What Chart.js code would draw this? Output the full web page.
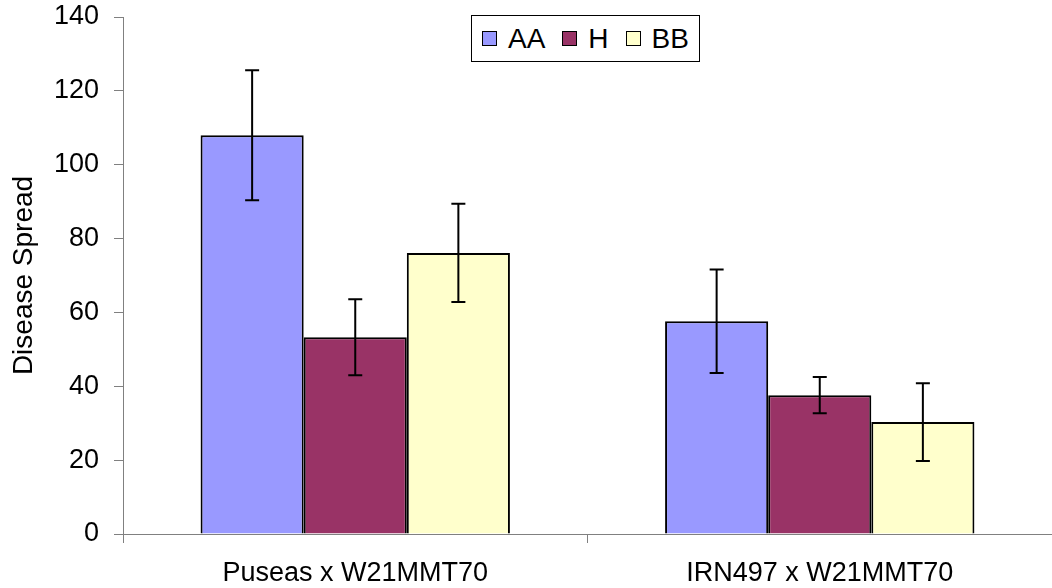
<!DOCTYPE html>
<html>
<head>
<meta charset="utf-8">
<script src="https://cdn.jsdelivr.net/npm/chart.js@4.4.1/dist/chart.umd.min.js"></script>
<style>
  body { margin: 0; background: #fff; }
  #wrap { position: relative; width: 1052px; height: 588px; }
  #legend {
    position: absolute; left: 471px; top: 15px; width: 217px; height: 45px;
    padding-left: 10px; border: 1px solid #000; background: #fff;
    display: flex; align-items: center;
    font-family: 'Liberation Sans', Arial, sans-serif; font-size: 28px; color: #000;
  }
  #legend .item { display: flex; align-items: center; margin-right: 17px; }
  #legend .box { width: 13px; height: 13px; border: 1px solid #000; margin-right: 11px; }
</style>
</head>
<body>
<div id="wrap">
  <canvas id="spread" width="1052" height="588"></canvas>
  <div id="legend"></div>
</div>
<script>
const categories = ['Puseas x W21MMT70', 'IRN497 x W21MMT70'];
const seriesNames = ['AA', 'H', 'BB'];
const aaValues = [108, 57.6];
const aaErrors = [17.6, 14];
const hValues = [53.3, 37.6];
const hErrors = [10.3, 4.9];
const bbValues = [76.1, 30.3];
const bbErrors = [13.3, 10.5];
const yTicks = [0, 20, 40, 60, 80, 100, 120, 140];

const fontFamily = "'Liberation Sans', Arial, sans-serif";

// error bars drawn on top of each bar: value +/- error
const errorBars = {
    id: 'errorBars',
    afterDatasetsDraw(chart) {
        const ctx = chart.ctx;
        const y = chart.scales.y;
        ctx.save();
        ctx.strokeStyle = '#000';
        ctx.lineWidth = 2;
        chart.data.datasets.forEach((ds, i) => {
            const meta = chart.getDatasetMeta(i);
            meta.data.forEach((bar, j) => {
                const v = ds.data[j];
                const e = ds.errors[j];
                const top = y.getPixelForValue(v + e);
                const bottom = y.getPixelForValue(v - e);
                ctx.beginPath();
                ctx.moveTo(bar.x, top);
                ctx.lineTo(bar.x, bottom);
                ctx.moveTo(bar.x - 7, top);
                ctx.lineTo(bar.x + 7, top);
                ctx.moveTo(bar.x - 7, bottom);
                ctx.lineTo(bar.x + 7, bottom);
                ctx.stroke();
            });
        });
        ctx.restore();
    }
};

const chart = new Chart(document.getElementById('spread'), {
    type: 'bar',
    data: {
        labels: categories,
        datasets: [{
            label: seriesNames[0],
            data: aaValues,
            errors: aaErrors,
            backgroundColor: '#9999FF',
            borderColor: '#000',
            borderWidth: 2
        }, {
            label: seriesNames[1],
            data: hValues,
            errors: hErrors,
            backgroundColor: '#993366',
            borderColor: '#000',
            borderWidth: 2
        }, {
            label: seriesNames[2],
            data: bbValues,
            errors: bbErrors,
            backgroundColor: '#FFFFCC',
            borderColor: '#000',
            borderWidth: 2
        }]
    },
    options: {
        responsive: false,
        animation: false,
        layout: { padding: { top: 17, right: 0, left: 0, bottom: 0 } },
        datasets: { bar: { categoryPercentage: 0.666, barPercentage: 1 } },
        plugins: {
            legend: { display: false },
            tooltip: { enabled: false }
        },
        scales: {
            x: {
                grid: { offset: true, drawOnChartArea: false, tickLength: 9, color: '#808080' },
                border: { color: '#808080', width: 1 },
                ticks: { color: '#000', font: { family: fontFamily, size: 27 }, padding: 14 },
                afterFit(scale) { scale.height = 54; }
            },
            y: {
                min: 0,
                max: 140,
                afterBuildTicks(scale) { scale.ticks = yTicks.map(v => ({ value: v })); },
                grid: { drawOnChartArea: false, tickLength: 9, color: '#808080' },
                border: { color: '#808080', width: 1 },
                ticks: { color: '#000', font: { family: fontFamily, size: 27 }, padding: 15 },
                title: {
                    display: true,
                    text: 'Disease Spread',
                    color: '#000',
                    font: { family: fontFamily, size: 28 },
                    padding: { top: 7, bottom: 0 }
                },
                afterFit(scale) {
                    scale.width = 123;
                    scale.paddingTop = 0;
                    scale.paddingBottom = 0;
                }
            }
        }
    },
    plugins: [errorBars]
});

// legend box built from the datasets
const legend = document.getElementById('legend');
chart.data.datasets.forEach(ds => {
    const item = document.createElement('div');
    item.className = 'item';
    const box = document.createElement('span');
    box.className = 'box';
    box.style.background = ds.backgroundColor;
    const text = document.createElement('span');
    text.textContent = ds.label;
    item.appendChild(box);
    item.appendChild(text);
    legend.appendChild(item);
});
</script>
</body>
</html>
